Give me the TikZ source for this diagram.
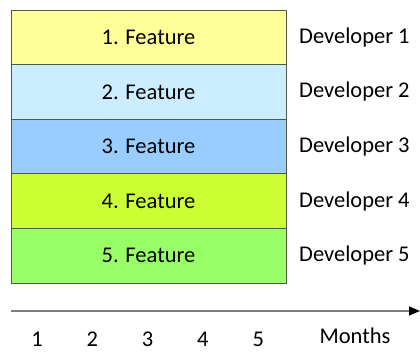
\documentclass[tikz,border=0pt]{standalone}
\usepackage{fontspec}
\setmainfont{Carlito}
\usetikzlibrary{arrows.meta, positioning}
\definecolor{featyellow}{HTML}{FFFF99}
\definecolor{featlightblue}{HTML}{CCECFF}
\definecolor{featblue}{HTML}{99CCFF}
\definecolor{featlime}{HTML}{CCFF33}
\definecolor{featgreen}{HTML}{99FF66}
\definecolor{boxline}{HTML}{4E5A45}
\definecolor{axisgray}{HTML}{7F7F7F}
\begin{document}
\begin{tikzpicture}[x=1pt, y=-1pt, line join=round,
  featbox/.style={draw=boxline, line width=0.9pt, minimum width=275pt, minimum height=54.6pt, inner sep=0pt, outer sep=0pt, font=\fontsize{22.5}{27}\selectfont},
  devlabel/.style={anchor=west, inner sep=0pt, font=\fontsize{22.5}{27}\selectfont},
  monthlabel/.style={inner sep=0pt, font=\fontsize{22.5}{27}\selectfont}]
\useasboundingbox (0,0) rectangle (420,352);
\node[featbox, fill=featyellow] (f1) at (148.5,37.3) {1. Feature};
\node[featbox, fill=featlightblue, below=0pt of f1] (f2) {2. Feature};
\node[featbox, fill=featblue, below=0pt of f2] (f3) {3. Feature};
\node[featbox, fill=featlime, below=0pt of f3] (f4) {4. Feature};
\node[featbox, fill=featgreen, below=0pt of f4] (f5) {5. Feature};
\foreach \i in {1,...,5}
  \node[devlabel, right=13pt of f\i] (d\i) {Developer \i};
\coordinate (t0) at (11,311);
\coordinate (t1) at (420,311);
\draw[axisgray, line width=1.5pt, -{Triangle[color=black, length=11pt, width=9pt]}] (t0) -- (t1);
\foreach \m in {1,...,5}
  \node[monthlabel] (m\m) at (37+55.3*\m-55.3,339.5) {\m};
\node[monthlabel] (months) at (355,336) {Months};
\end{tikzpicture}
\end{document}
